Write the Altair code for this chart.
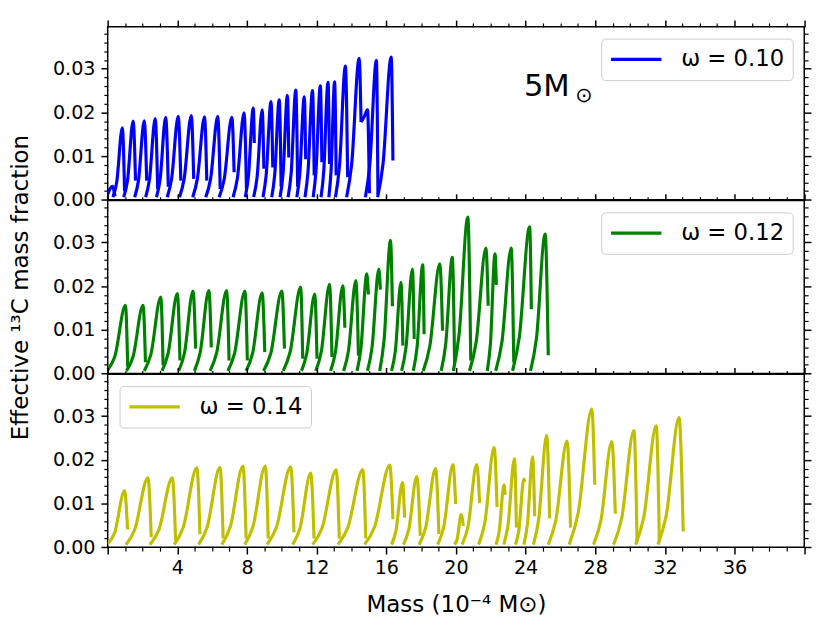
import altair as alt
import pandas as pd

FONT = "DejaVu Sans"
X_MAX = 40.0
Y_MAX = 0.0396

# ---------------- omega = 0.10 (top panel) ----------------
w10_xs = [0.00, 0.30, 0.92, 1.55, 2.18, 2.80, 3.42, 4.12, 4.88, 5.63, 6.40, 7.20, 7.90, 8.38, 8.92, 9.42, 9.90, 10.36, 10.86, 11.33, 11.80, 12.25, 12.70, 13.08, 13.72, 14.55, 14.80, 15.50]
w10_ys = [0.0012, 0.0006, 0.0006, 0.0006, 0.0006, 0.0006, 0.0006, 0.0006, 0.0006, 0.0006, 0.0006, 0.0006, 0.0006, 0.0006, 0.0006, 0.0006, 0.0006, 0.0006, 0.0006, 0.0006, 0.0006, 0.0006, 0.0006, 0.0006, 0.0006, 0.0178, 0.0006, 0.0006]
w10_xm = [0.12, 0.52, 1.14, 1.77, 2.40, 3.01, 3.67, 4.39, 5.15, 5.91, 6.69, 7.45, 8.08, 8.58, 9.10, 9.59, 10.07, 10.54, 11.03, 11.50, 11.96, 12.41, 12.83, 13.31, 14.01, 14.73, 15.05, 15.81]
w10_ym = [0.0024, 0.0041, 0.0045, 0.0045, 0.0047, 0.0047, 0.0048, 0.0048, 0.0048, 0.0048, 0.0047, 0.0050, 0.0053, 0.0052, 0.0056, 0.0057, 0.0060, 0.0063, 0.0059, 0.0063, 0.0065, 0.0067, 0.0068, 0.0077, 0.0081, 0.0190, 0.0080, 0.0082]
w10_xp = [0.27, 0.84, 1.46, 2.10, 2.73, 3.33, 4.05, 4.80, 5.56, 6.32, 7.13, 7.83, 8.36, 8.87, 9.38, 9.85, 10.32, 10.80, 11.29, 11.76, 12.21, 12.65, 13.03, 13.65, 14.44, 14.92, 15.43, 16.28]
w10_yp = [0.0031, 0.0165, 0.0180, 0.0181, 0.0186, 0.0189, 0.0191, 0.0193, 0.0190, 0.0191, 0.0189, 0.0199, 0.0210, 0.0206, 0.0225, 0.0229, 0.0239, 0.0251, 0.0236, 0.0250, 0.0261, 0.0269, 0.0270, 0.0306, 0.0324, 0.0206, 0.0319, 0.0327]
w10_xe = [0.42, 0.97, 1.60, 2.24, 2.87, 3.48, 4.20, 4.94, 5.69, 6.46, 7.26, 7.97, 8.42, 8.97, 9.48, 9.96, 10.40, 10.91, 11.37, 11.86, 12.30, 12.74, 13.12, 13.78, 14.55, 15.03, 15.52, 16.38]
w10_ye = [0.0008, 0.0020, 0.0044, 0.0044, 0.0025, 0.0030, 0.0044, 0.0048, 0.0044, 0.0025, 0.0063, 0.0025, 0.0130, 0.0071, 0.0074, 0.0030, 0.0097, 0.0030, 0.0093, 0.0056, 0.0086, 0.0082, 0.0056, 0.0052, 0.0178, 0.0015, 0.0012, 0.0090]

# ---------------- omega = 0.12 (middle panel) ----------------
w12_xs = [0.00, 1.08, 2.10, 3.12, 4.08, 4.98, 5.88, 6.90, 7.95, 8.95, 10.08, 11.13, 11.95, 12.80, 13.55, 14.32, 14.92, 15.62, 16.30, 16.88, 17.55, 18.12, 19.15, 19.85, 20.78, 21.80, 22.28, 23.25, 24.28]
w12_ys = [0.0008, 0.0006, 0.0006, 0.0006, 0.0006, 0.0006, 0.0006, 0.0006, 0.0006, 0.0006, 0.0006, 0.0006, 0.0006, 0.0006, 0.0006, 0.0006, 0.0006, 0.0006, 0.0006, 0.0006, 0.0006, 0.0006, 0.0006, 0.0006, 0.0006, 0.0006, 0.0006, 0.0006, 0.0006]
w12_xm = [0.41, 1.46, 2.48, 3.47, 4.41, 5.31, 6.26, 7.29, 8.32, 9.37, 10.48, 11.43, 12.27, 13.08, 13.83, 14.54, 15.18, 15.87, 16.52, 17.13, 17.77, 18.50, 19.41, 20.18, 21.16, 21.98, 22.64, 23.64, 24.62]
w12_ym = [0.0039, 0.0039, 0.0044, 0.0046, 0.0047, 0.0048, 0.0048, 0.0047, 0.0046, 0.0047, 0.0050, 0.0046, 0.0051, 0.0050, 0.0053, 0.0057, 0.0060, 0.0076, 0.0052, 0.0060, 0.0062, 0.0063, 0.0067, 0.0090, 0.0072, 0.0069, 0.0072, 0.0084, 0.0080]
w12_xp = [1.02, 2.03, 3.05, 4.00, 4.90, 5.81, 6.83, 7.88, 8.87, 10.00, 11.08, 11.89, 12.74, 13.50, 14.25, 14.88, 15.57, 16.24, 16.84, 17.50, 18.09, 19.07, 19.79, 20.68, 21.72, 22.24, 23.17, 24.23, 25.12]
w12_yp = [0.0156, 0.0156, 0.0175, 0.0183, 0.0189, 0.0190, 0.0190, 0.0189, 0.0185, 0.0189, 0.0198, 0.0182, 0.0204, 0.0201, 0.0213, 0.0228, 0.0239, 0.0305, 0.0209, 0.0239, 0.0249, 0.0251, 0.0266, 0.0358, 0.0287, 0.0274, 0.0287, 0.0336, 0.0319]
w12_xe = [1.15, 2.17, 3.18, 4.15, 5.05, 5.95, 6.97, 8.02, 9.02, 10.15, 11.20, 12.02, 12.88, 13.62, 14.40, 14.97, 15.66, 16.35, 16.95, 17.60, 18.17, 19.23, 19.92, 20.85, 21.85, 22.32, 23.32, 24.33, 25.30]
w12_ye = [0.0015, 0.0026, 0.0019, 0.0030, 0.0057, 0.0060, 0.0030, 0.0030, 0.0049, 0.0057, 0.0034, 0.0034, 0.0038, 0.0105, 0.0041, 0.0181, 0.0192, 0.0154, 0.0064, 0.0079, 0.0090, 0.0098, 0.0023, 0.0030, 0.0155, 0.0203, 0.0026, 0.0147, 0.0042]

# ---------------- omega = 0.14 (bottom panel) ----------------
w14_xs = [0.00, 1.05, 2.42, 3.82, 5.22, 6.55, 7.87, 9.15, 10.62, 11.77, 13.22, 14.75, 16.30, 16.98, 17.88, 18.95, 19.92, 20.35, 21.30, 22.30, 22.75, 23.42, 23.90, 24.45, 25.30, 26.50, 27.90, 29.05, 30.32, 31.60]
w14_ys = [0.0008, 0.0006, 0.0006, 0.0006, 0.0006, 0.0006, 0.0006, 0.0006, 0.0006, 0.0006, 0.0006, 0.0006, 0.0006, 0.0006, 0.0006, 0.0006, 0.0006, 0.0006, 0.0006, 0.0006, 0.0006, 0.0006, 0.0006, 0.0006, 0.0006, 0.0006, 0.0006, 0.0006, 0.0006, 0.0006]
w14_xm = [0.39, 1.55, 2.94, 4.34, 5.71, 7.04, 8.34, 9.69, 11.04, 12.31, 13.79, 15.33, 16.55, 17.29, 18.26, 19.30, 20.07, 20.69, 21.66, 22.48, 22.99, 23.61, 24.10, 24.75, 25.73, 27.02, 28.32, 29.52, 30.79, 32.08]
w14_ym = [0.0032, 0.0040, 0.0040, 0.0046, 0.0046, 0.0047, 0.0047, 0.0046, 0.0043, 0.0044, 0.0045, 0.0047, 0.0037, 0.0041, 0.0045, 0.0047, 0.0019, 0.0047, 0.0057, 0.0036, 0.0051, 0.0039, 0.0052, 0.0064, 0.0061, 0.0079, 0.0061, 0.0067, 0.0070, 0.0074]
w14_xp = [0.97, 2.31, 3.71, 5.12, 6.45, 7.77, 9.05, 10.51, 11.66, 13.12, 14.65, 16.20, 16.93, 17.75, 18.83, 19.83, 20.30, 21.19, 22.19, 22.76, 23.36, 23.90, 24.40, 25.21, 26.38, 27.80, 28.95, 30.22, 31.50, 32.81]
w14_yp = [0.0129, 0.0159, 0.0159, 0.0182, 0.0183, 0.0186, 0.0186, 0.0184, 0.0170, 0.0177, 0.0178, 0.0188, 0.0148, 0.0162, 0.0180, 0.0189, 0.0075, 0.0189, 0.0229, 0.0143, 0.0203, 0.0156, 0.0207, 0.0256, 0.0243, 0.0316, 0.0242, 0.0267, 0.0278, 0.0297]
w14_xe = [1.14, 2.50, 3.90, 5.30, 6.63, 7.95, 9.22, 10.70, 11.85, 13.30, 14.82, 16.38, 17.05, 17.95, 19.02, 19.98, 20.42, 21.36, 22.36, 22.82, 23.47, 23.95, 24.52, 25.38, 26.58, 27.97, 29.15, 30.40, 31.68, 33.05]
w14_ye = [0.0041, 0.0023, 0.0015, 0.0030, 0.0020, 0.0020, 0.0020, 0.0034, 0.0020, 0.0020, 0.0020, 0.0064, 0.0068, 0.0026, 0.0030, 0.0099, 0.0049, 0.0101, 0.0092, 0.0120, 0.0045, 0.0150, 0.0071, 0.0066, 0.0045, 0.0143, 0.0077, 0.0012, 0.0012, 0.0036]

SERIES = ["ω = 0.10", "ω = 0.12", "ω = 0.14"]
COLORS = ["#0000ff", "#008000", "#bfbf00"]

# annotation
ann_text = ["5M", "⊙"]
ann_x = [23.9, 26.85]
ann_y = [0.0238, 0.0224]
ann_size = [31, 21]

X_TICKS = list(range(0, 41))
Y_TICKS = [0.0, 0.002, 0.004, 0.006, 0.008, 0.01, 0.012, 0.014, 0.016, 0.018,
           0.02, 0.022, 0.024, 0.026, 0.028, 0.03, 0.032, 0.034, 0.036, 0.038]


def build(series, xs, ys, xm, ym, xp, yp, xe, ye):
    rows = []
    for i in range(len(xs)):
        pts = [(xs[i], ys[i]), (xm[i], ym[i]), (xp[i], yp[i]), (xe[i], ye[i])]
        for k, (x, y) in enumerate(pts):
            rows.append({"pulse": i, "k": k, "x": x, "y": y, "series": series})
    return pd.DataFrame(rows)


d10 = build(SERIES[0], w10_xs, w10_ys, w10_xm, w10_ym, w10_xp, w10_yp, w10_xe, w10_ye)
d12 = build(SERIES[1], w12_xs, w12_ys, w12_xm, w12_ym, w12_xp, w12_yp, w12_xe, w12_ye)
d14 = build(SERIES[2], w14_xs, w14_ys, w14_xm, w14_ym, w14_xp, w14_yp, w14_xe, w14_ye)

YMAJ = "abs(datum.value * 100 - round(datum.value * 100)) < 0.000001"
XMAJ = "datum.value % 4 === 0"


def tsize(test):
    return {"condition": {"test": test, "value": 6.8}, "value": 3.9}


def twidth(test):
    return {"condition": {"test": test, "value": 1.5}, "value": 1.2}


W = 705.7
H = 175.3


def panel(df, idx, legend_orient, bottom=False, ytitle=None, ann=False):
    xscale = alt.Scale(domain=[0, X_MAX], nice=False, zero=False)
    yscale = alt.Scale(domain=[0, Y_MAX], nice=False)
    ykw = dict(orient="left", values=Y_TICKS,
               labelExpr=f"({YMAJ}) ? format(datum.value, '.2f') : ''",
               tickSize=tsize(YMAJ), tickWidth=twidth(YMAJ), labelPadding=6,
               labelOverlap=False, domain=False, grid=False)
    if ytitle:
        ykw.update(title=ytitle, titlePadding=20)
    else:
        ykw.update(title=None)
    yaxis = alt.Axis(**ykw)
    if bottom:
        xaxis = alt.Axis(orient="bottom", values=X_TICKS,
                         labelExpr=f"({XMAJ}) && datum.value > 0 && datum.value < 40 ? datum.value : ''",
                         tickSize=tsize(XMAJ), tickWidth=twidth(XMAJ), labelPadding=5,
                         labelOverlap=False, domain=False, grid=False,
                         title="Mass (10⁻⁴ M⊙)", titlePadding=17)
    else:
        xaxis = None
    lines = alt.Chart(df).mark_line(interpolate="monotone", strokeWidth=3.2, clip=True).encode(
        x=alt.X("x:Q", scale=xscale, axis=xaxis),
        y=alt.Y("y:Q", scale=yscale, axis=yaxis),
        detail="pulse:N",
        order="k:O",
        color=alt.Color("series:N",
                        scale=alt.Scale(domain=[SERIES[idx]], range=[COLORS[idx]]),
                        legend=alt.Legend(orient=legend_orient, offset=12, title=None,
                                          symbolType="stroke", symbolSize=2601,
                                          symbolStrokeWidth=3.2, labelFontSize=23,
                                          labelFont=FONT, labelColor="black", labelOffset=18,
                                          clipHeight=26, padding=8,
                                          fillColor="rgba(255,255,255,0.8)",
                                          strokeColor="#cccccc", cornerRadius=4)),
    )
    layers = [lines]
    if ann:
        adf = pd.DataFrame({"t": ann_text, "x": ann_x, "y": ann_y})
        for i in range(len(ann_text)):
            layers.append(
                alt.Chart(adf.iloc[[i]]).mark_text(align="left", baseline="alphabetic",
                                                   font=FONT, fontSize=ann_size[i], color="black").encode(
                    x=alt.X("x:Q", scale=xscale, axis=xaxis),
                    y=alt.Y("y:Q", scale=yscale, axis=yaxis),
                    text="t:N"))
    main = alt.layer(*layers)
    dummy = alt.Chart(df).mark_line(opacity=0).encode(
        x=alt.X("x:Q", scale=xscale,
                axis=alt.Axis(orient="top", values=X_TICKS, labels=False,
                              tickSize=tsize(XMAJ), tickWidth=twidth(XMAJ),
                              domain=False, grid=False, title=None)),
        y=alt.Y("y:Q", scale=yscale,
                axis=alt.Axis(orient="right", values=Y_TICKS, labels=False,
                              tickSize=tsize(YMAJ), tickWidth=twidth(YMAJ),
                              domain=False, grid=False, title=None)),
        detail="pulse:N",
    )
    return alt.layer(main, dummy).resolve_scale(x="independent", y="independent").properties(width=W, height=H)


p1 = panel(d10, 0, "top-right", ann=True)
p2 = panel(d12, 1, "top-right", ytitle="Effective ¹³C mass fraction")
p3 = panel(d14, 2, "top-left", bottom=True)

chart = alt.vconcat(p1, p2, p3, spacing=0, bounds="flush").resolve_scale(
    color="independent", x="independent", y="independent"
).properties(
    padding={"left": 0, "top": 6, "right": 10, "bottom": 5}, background="white"
).configure_view(stroke="black", strokeWidth=1.5).configure_axis(
    labelFont=FONT, titleFont=FONT, labelFontSize=19.4, titleFontSize=23.3,
    titleFontWeight="normal", labelColor="black", titleColor="black", tickColor="black"
)

chart.save("out.html", embed_options={"renderer": "svg", "actions": False})
